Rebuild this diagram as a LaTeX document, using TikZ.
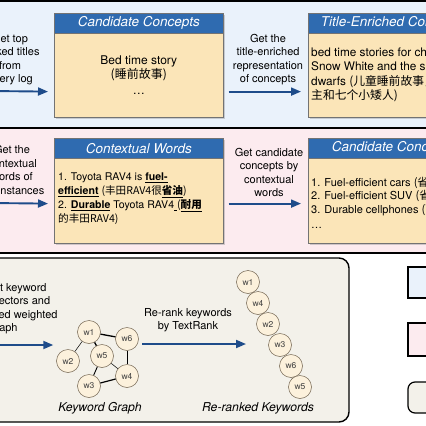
\documentclass[tikz,border=0pt]{standalone}
\usepackage{fontspec}
\setmainfont{TeX Gyre Heros}
\newfontfamily\cjk{Noto Sans CJK SC}
\usetikzlibrary{arrows.meta,shadows,positioning}

\definecolor{bandblue}{HTML}{EAF2FB}
\definecolor{bandpink}{HTML}{FCEBEF}
\definecolor{bandgray}{HTML}{F3F1EA}
\definecolor{headblue}{HTML}{2F6BB0}
\definecolor{bodytan}{HTML}{FBE5B8}
\definecolor{arrowblue}{HTML}{1E4C8A}
\definecolor{wordfill}{HTML}{FCF1DC}
\definecolor{wordline}{HTML}{6E604C}

\begin{document}
\begin{tikzpicture}[x=1pt,y=-1pt,
        band/.style={draw=black,line width=1.4pt},
        conbox/.style={draw=black!55,fill=bodytan,line width=0.6pt,inner sep=0pt,
            minimum width=169pt,minimum height=104pt,anchor=north west,
            drop shadow={shadow xshift=1.5pt,shadow yshift=-1.5pt,opacity=0.35}},
        conhead/.style={draw=black!55,fill=headblue,line width=0.6pt,text=white,
            font=\fontsize{13.5}{15}\selectfont\itshape,inner sep=0pt,
            minimum width=169pt,minimum height=20pt,anchor=north},
        flow/.style={arrowblue,line width=1.9pt,-{Triangle[length=10pt,width=8pt]}},
        note/.style={align=center,font=\fontsize{11}{13.6}\selectfont},
        body/.style={align=left,anchor=west,inner sep=0pt,font=\fontsize{11.8}{14.5}\selectfont},
        caption/.style={font=\fontsize{12.2}{14}\selectfont\itshape}]
        \tikzstyle{word}=[circle,draw=wordline,fill=wordfill,line width=0.5pt,
            minimum size=23pt,inner sep=0pt,text=black!75,font=\fontsize{8.5}{9}\selectfont]
        \tikzstyle{legend}=[draw=black,line width=1.2pt]

        \useasboundingbox (0,0) rectangle (426,426);
        \clip (0,0) rectangle (426,426);
        \fill[white] (0,0) rectangle (426,426);

        % three bands
        \draw[band,fill=bandblue] (-20,1) rectangle (460,128);
        \draw[band,fill=bandpink] (-20,128) rectangle (460,253);
        \draw[band,fill=bandgray,rounded corners=10pt] (-20,258) rectangle (349,422);

        % legend
        \draw[legend,fill=bandblue] (408,267) rectangle (450,298);
        \draw[legend,fill=bandpink] (408,323) rectangle (450,356);
        \draw[legend,fill=bandgray,rounded corners=7pt] (408,382) rectangle (450,413);

        % first band
        \node[conbox] (C) at (54,13) {};
        \node[conhead] (Ch) at (C.north) {Candidate Concepts};
        \node[note,font=\fontsize{12}{14}\selectfont] (Cb) at ([yshift=-10pt]C.center) {Bed time story\\{\cjk (睡前故事)}\\[2pt]\dots};
        \node[conbox] (T) at (308,13) {};
        \node[conhead] (Th) at (T.north) {Title-Enriched Concepts};
        \node[body] (Tb) at (311,75) {bed time stories for children,\\Snow White and the seven\\dwarfs {\cjk (儿童睡前故事，白雪公}\\{\cjk 主和七个小矮人)}};

        \node[note] (L1) at (10,59.5) {Get top\\ranked titles\\from\\query log};
        \node[note] (M1) at (268,59.5) {Get the\\title-enriched\\representation\\of concepts};
        \coordinate (S1) at (-10,91);
        \draw[flow] (S1) -- ([xshift=-6pt,yshift=26pt]C.south west);
        \draw[flow] ([xshift=5pt,yshift=26pt]C.south east) -- ([xshift=-7pt,yshift=26pt]T.south west);

        % second band
        \node[conbox,minimum height=105pt] (W) at (54,138) {};
        \node[conhead] (Wh) at (W.north) {Contextual Words};
        \node[body,font=\fontsize{10.6}{14}\selectfont] (Wb) at (58,198.5) {1. Toyota RAV4 is \textbf{\underline{fuel-}}\\
            \textbf{\underline{efficient}} {\cjk (丰田RAV4很\textbf{\underline{省油}})}\\
            2. \textbf{\underline{Durable}} Toyota RAV4\underline{\ }{\cjk (\textbf{\underline{耐用}}}\\
            {\cjk 的丰田RAV4)}};
        \node[conbox,minimum height=105pt] (K) at (308,138) {};
        \node[conhead] (Kh) at (K.north) {Candidate Concepts};
        \node[body,font=\fontsize{11}{13.5}\selectfont] (Kb) at (311,203) {1. Fuel-efficient cars {\cjk (省油的汽车)}\\
            2. Fuel-efficient SUV {\cjk (省油的SUV)}\\
            3. Durable cellphones {\cjk (耐用的手机)}\\[2pt]\dots};

        \node[note] (L2) at (12,170) {Get the\\contextual\\words of\\\phantom{the }instances};
        \node[note] (M2) at (269,172.5) {Get candidate\\concepts by\\contextual\\words};
        \coordinate (S2) at (-10,203);
        \draw[flow] (S2) -- ([xshift=-6pt,yshift=40pt]W.south west);
        \draw[flow] ([xshift=5pt,yshift=40pt]W.south east) -- ([xshift=-7pt,yshift=40pt]K.south west);

        % keyword graph
        \node[word] (w1) at (89,332) {w1};
        \node[word] (w6) at (127,339) {w6};
        \node[word] (w5) at (102,356) {w5};
        \node[word] (w2) at (68,361) {w2};
        \node[word] (w4) at (127,376) {w4};
        \node[word] (w3) at (89,386) {w3};
        \draw[line width=1.3pt] (w1) -- (w6);
        \draw[line width=1.3pt] (w1) -- (w5);
        \draw[line width=1.2pt] (w3) -- (w4);
        \draw[line width=0.9pt] (w6) -- (w4);
        \draw[line width=0.9pt] (w5) -- (w3);
        \draw[line width=0.5pt] (w5) -- (w4);
        \draw[line width=0.5pt] (w1) -- (w2);
        \node[caption] (G) at (100,408) {Keyword Graph};

        % re-ranked keywords
        \node[word] (r1) at (248,282) {w1};
        \node[word] (r2) at (258,303) {w4};
        \node[word] (r3) at (268,324) {w2};
        \node[word] (r4) at (280,345) {w3};
        \node[word] (r5) at (291,366) {w6};
        \node[word] (r6) at (300,387) {w5};
        \node[caption] (R) at (258,408) {Re-ranked Keywords};

        \node[note,align=left,anchor=west] (L3) at (-18,308.5) {Get keyword\\\hspace*{8pt}vectors and\\\hspace*{13pt}ed weighted\\\hspace*{4pt}graph};
        \node[note] (M3) at (188,320) {Re-rank keywords\\by TextRank};
        \coordinate (S3) at (-10,345);
        \coordinate (A3) at (142,344);
        \coordinate (B3) at (246,344);
        \draw[flow] (S3) -- ([xshift=-3pt]S3 -| w2.west);
        \draw[flow] (A3) -- (B3);
\end{tikzpicture}
\end{document}
